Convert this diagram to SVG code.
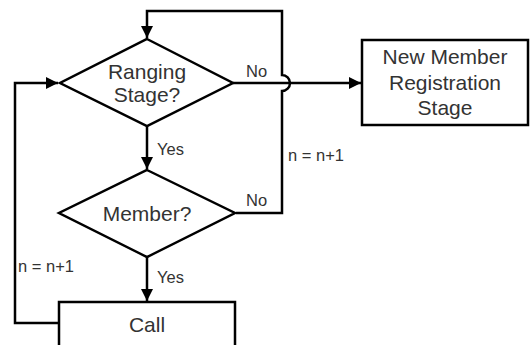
<svg xmlns="http://www.w3.org/2000/svg" width="530" height="345" viewBox="0 0 530 345">
<defs>
<style>
.s{fill:#fff;stroke:#000;stroke-width:2.5}
.c{fill:none;stroke:#000;stroke-width:2.5}
.t{font-family:"Liberation Sans",Arial,sans-serif;font-size:21px;fill:#333;text-anchor:middle}
.l{font-family:"Liberation Sans",Arial,sans-serif;font-size:16.5px;fill:#333}
</style>
<marker id="a" markerUnits="userSpaceOnUse" markerWidth="12" markerHeight="12" viewBox="0 0 12 12" refX="12" refY="6" orient="auto">
<path d="M0,0 L12,6 L0,12 Z" fill="#000"/>
</marker>
</defs>
<rect width="530" height="345" fill="#fff"/>
<g id="connectors">
<path class="c" d="M233,83 H361" marker-end="url(#a)"/>
<path class="c" d="M236,213 H282 V91 A8,8 0 0 0 282,75 V11 H147 V38" marker-end="url(#a)"/>
<path class="c" d="M147,126 V169" marker-end="url(#a)"/>
<path class="c" d="M147,257 V301" marker-end="url(#a)"/>
<path class="c" d="M59,323 H15 V83 H58" marker-end="url(#a)"/>
<text class="l" x="246" y="77">No</text>
<text class="l" x="157" y="155">Yes</text>
<text class="l" x="288" y="161">n = n+1</text>
<text class="l" x="246" y="206">No</text>
<text class="l" x="157" y="283">Yes</text>
<text class="l" x="18" y="272">n = n+1</text>
</g>
<g id="ranging">
<polygon class="s" points="147,39 233,83 147,126 60,83"/>
<text class="t" x="147" y="79">Ranging</text>
<text class="t" x="147" y="102">Stage?</text>
</g>
<g id="member">
<polygon class="s" points="147,170 235,213 147,257 59,213"/>
<text class="t" x="147" y="221">Member?</text>
</g>
<g id="call">
<rect class="s" x="59" y="302" width="176" height="60"/>
<text class="t" x="147" y="332">Call</text>
</g>
<g id="newmember">
<rect class="s" x="362" y="40" width="166" height="85"/>
<text class="t" x="445" y="64">New Member</text>
<text class="t" x="445" y="90">Registration</text>
<text class="t" x="445" y="115">Stage</text>
</g>
</svg>
